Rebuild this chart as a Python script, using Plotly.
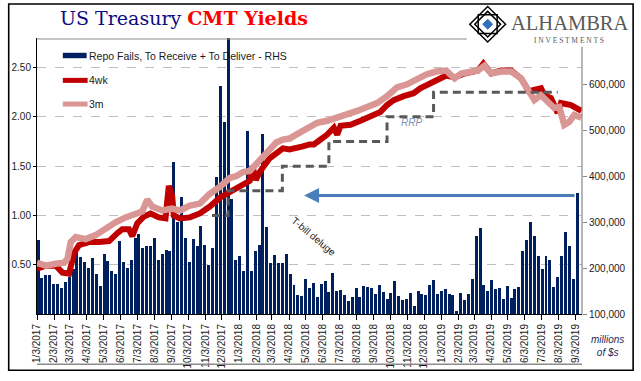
import plotly.graph_objects as go
import pandas as pd

# ---------------- data ----------------
# weekly repo fails (To Receive + To Deliver), millions of $ (RHS)
fails_start = "2017-01-05"
repo_fails = [261, 178, 184, 184, 165, 166, 157, 170, 180, 198,
              241, 224, 213, 201, 221, 188, 161, 231, 216, 193,
              186, 258, 214, 201, 218, 266, 274, 243, 248, 248,
              266, 217, 230, 240, 238, 430, 300, 355, 266, 214,
              263, 247, 291, 250, 206, 244, 398, 595, 518, 720,
              350, 218, 226, 193, 497, 194, 236, 250, 491, 290,
              211, 228, 211, 211, 231, 188, 164, 141, 139, 176,
              156, 167, 137, 166, 171, 148, 190, 150, 153, 141,
              128, 137, 156, 137, 161, 158, 156, 144, 163, 147,
              133, 146, 171, 140, 131, 133, 146, 118, 150, 143,
              141, 163, 173, 144, 150, 154, 143, 141, 106, 146,
              130, 144, 176, 270, 287, 163, 151, 173, 154, 156,
              133, 160, 134, 154, 158, 237, 261, 301, 270, 227,
              198, 227, 218, 158, 180, 227, 278, 248, 176, 362]
repo_fails = [v * 1000 for v in repo_fails]

# 4-week bill CMT yield (%)
wk4_dates = ["2017-01-03", "2017-01-19", "2017-02-06", "2017-02-18", "2017-03-02",
             "2017-03-11", "2017-03-20", "2017-04-07", "2017-04-25", "2017-05-13",
             "2017-05-28", "2017-06-06", "2017-06-18", "2017-06-24", "2017-07-03",
             "2017-07-15", "2017-07-27", "2017-08-11", "2017-08-23", "2017-08-29",
             "2017-09-04", "2017-09-07", "2017-09-18", "2017-10-06", "2017-10-24",
             "2017-11-11", "2017-11-29", "2017-12-17", "2017-12-29", "2018-01-10",
             "2018-01-22", "2018-01-27", "2018-02-02", "2018-02-09", "2018-02-21",
             "2018-02-27", "2018-03-11", "2018-03-23", "2018-04-04", "2018-04-16",
             "2018-04-28", "2018-05-10", "2018-05-18", "2018-05-30", "2018-06-11",
             "2018-06-23", "2018-06-29", "2018-07-05", "2018-07-23", "2018-08-10",
             "2018-08-28", "2018-09-15", "2018-09-27", "2018-10-09", "2018-10-27",
             "2018-11-14", "2018-11-26", "2018-12-07", "2018-12-19", "2018-12-31",
             "2019-01-12", "2019-01-27", "2019-02-14", "2019-03-10", "2019-03-20",
             "2019-04-03", "2019-04-21", "2019-05-09", "2019-05-27", "2019-06-10",
             "2019-07-02", "2019-07-08", "2019-07-20", "2019-08-01", "2019-08-07",
             "2019-08-25", "2019-09-06", "2019-09-13"]
wk4_vals = [0.46, 0.49, 0.49, 0.42, 0.41, 0.62, 0.70, 0.73, 0.73, 0.74,
            0.82, 0.86, 0.86, 0.79, 0.92, 0.99, 1.02, 0.98, 0.97, 1.30,
            1.20, 1.00, 0.97, 0.98, 1.02, 1.09, 1.18, 1.24, 1.27, 1.32,
            1.35, 1.50, 1.36, 1.44, 1.52, 1.58, 1.63, 1.68, 1.67, 1.68,
            1.70, 1.72, 1.72, 1.77, 1.82, 1.89, 1.82, 1.91, 1.92, 1.96,
            2.00, 2.05, 2.12, 2.17, 2.21, 2.24, 2.29, 2.32, 2.36, 2.40,
            2.42, 2.40, 2.44, 2.47, 2.54, 2.44, 2.47, 2.47, 2.39, 2.26,
            2.29, 2.22, 2.19, 2.04, 2.14, 2.12, 2.09, 2.06]

# 3-month bill CMT yield (%)
m3_dates = ["2017-01-03", "2017-01-19", "2017-02-06", "2017-02-21", "2017-02-27",
            "2017-03-05", "2017-03-14", "2017-04-01", "2017-04-19", "2017-05-07",
            "2017-05-25", "2017-06-12", "2017-06-30", "2017-07-12", "2017-07-21",
            "2017-07-30", "2017-08-17", "2017-09-04", "2017-09-18", "2017-10-06",
            "2017-10-24", "2017-11-11", "2017-11-29", "2017-12-17", "2017-12-29",
            "2018-01-10", "2018-01-22", "2018-02-03", "2018-02-15", "2018-02-27",
            "2018-03-11", "2018-03-23", "2018-04-04", "2018-04-16", "2018-04-28",
            "2018-05-10", "2018-05-24", "2018-06-11", "2018-06-29", "2018-07-17",
            "2018-08-04", "2018-08-22", "2018-09-09", "2018-09-27", "2018-10-15",
            "2018-11-02", "2018-11-20", "2018-12-07", "2018-12-25", "2019-01-12",
            "2019-01-21", "2019-01-27", "2019-02-08", "2019-02-26", "2019-03-10",
            "2019-03-22", "2019-04-03", "2019-04-21", "2019-05-09", "2019-05-27",
            "2019-06-08", "2019-06-20", "2019-07-02", "2019-07-14", "2019-07-26",
            "2019-08-04", "2019-08-13", "2019-08-22", "2019-08-31", "2019-09-13"]
m3_vals = [0.52, 0.49, 0.51, 0.52, 0.56, 0.73, 0.78, 0.76, 0.80, 0.87,
           0.93, 0.98, 1.01, 1.04, 1.16, 1.09, 1.05, 1.07, 1.05, 1.10,
           1.12, 1.22, 1.29, 1.38, 1.40, 1.44, 1.45, 1.52, 1.60, 1.66,
           1.74, 1.77, 1.78, 1.82, 1.86, 1.91, 1.94, 1.96, 1.99, 2.02,
           2.06, 2.10, 2.14, 2.21, 2.30, 2.33, 2.38, 2.43, 2.46, 2.47,
           2.42, 2.39, 2.44, 2.46, 2.47, 2.52, 2.44, 2.46, 2.46, 2.39,
           2.29, 2.17, 2.22, 2.16, 2.09, 2.10, 1.92, 1.95, 2.02, 1.99]

# Fed RRP rate (%), step series
rrp_dates = ["2017-11-15", "2017-12-14", "2018-03-22", "2018-06-14",
             "2018-09-27", "2018-12-20", "2019-08-01"]
rrp_vals = [1.00, 1.25, 1.50, 1.75, 2.00, 2.25, 2.25]

left_ticks = [0.5, 1.0, 1.5, 2.0, 2.5]
right_ticks = [100000, 200000, 300000, 400000, 500000, 600000]

# ---------------- layout helpers ----------------
W, H = 641, 381
ML, MR, MT, MB = 33, 59, 38, 63
PW = W - ML - MR
PH = H - MT - MB


def X(px):
    return (px - ML) / PW


def Y(py):
    return (H - MB - py) / PH


NAVY = "#002060"
RED = "#C00000"
PINK = "#DA9694"
FONT = "Liberation Sans"

fail_dates = pd.date_range(fails_start, periods=len(repo_fails), freq="7D")
month_ticks = pd.date_range("2017-01-01", "2019-09-01", freq="MS") + pd.Timedelta(days=2)

fig = go.Figure()
fig.add_trace(go.Bar(x=fail_dates, y=repo_fails, yaxis="y",
                     marker=dict(color=NAVY, line=dict(width=0)),
                     width=5.4 * 86400000, name="Repo Fails, To Receive + To Deliver - RHS",
                     showlegend=False))
fig.add_trace(go.Scatter(x=wk4_dates, y=wk4_vals, yaxis="y2", mode="lines",
                         line=dict(color=RED, width=6), name="4wk", showlegend=False))
fig.add_trace(go.Scatter(x=m3_dates, y=m3_vals, yaxis="y2", mode="lines",
                         line=dict(color=PINK, width=6.5), name="3m", showlegend=False))
fig.add_trace(go.Scatter(x=rrp_dates, y=rrp_vals, yaxis="y2", mode="lines",
                         line=dict(color="#595959", width=3, dash="8px,5px", shape="hv"),
                         name="RRP", showlegend=False))

shapes = []
# outer frame
shapes.append(dict(type="rect", xref="paper", yref="paper", x0=X(4.5), x1=X(633.5),
                   y0=Y(375), y1=Y(3.5), line=dict(color="black", width=1.6), layer="above"))
# plot top border and bottom line
shapes.append(dict(type="line", xref="paper", yref="paper", x0=X(33), x1=X(466),
                   y0=Y(39), y1=Y(39), line=dict(color="#8C8C8C", width=1)))
shapes.append(dict(type="line", xref="paper", yref="paper", x0=X(33), x1=X(582),
                   y0=Y(369), y1=Y(369), line=dict(color="#8C8C8C", width=1.5)))
# right axis line
shapes.append(dict(type="line", xref="paper", yref="paper", x0=X(582), x1=X(582),
                   y0=Y(318), y1=Y(47), line=dict(color="#868686", width=1.2)))
# legend symbols
shapes.append(dict(type="rect", xref="paper", yref="paper", x0=X(59), x1=X(83),
                   y0=Y(58.5), y1=Y(53), fillcolor=NAVY, line=dict(width=0)))
shapes.append(dict(type="line", xref="paper", yref="paper", x0=X(59), x1=X(84),
                   y0=Y(81), y1=Y(81), line=dict(color=RED, width=5)))
shapes.append(dict(type="line", xref="paper", yref="paper", x0=X(59), x1=X(84),
                   y0=Y(105), y1=Y(105), line=dict(color=PINK, width=5)))


# logo diamond
def diamond(cx, cy, r):
    return "M {},{} L {},{} L {},{} L {},{} Z".format(
        X(cx), Y(cy - r), X(cx + r), Y(cy), X(cx), Y(cy + r), X(cx - r), Y(cy))


def square(cx, cy, r):
    return "M {},{} L {},{} L {},{} L {},{} Z".format(
        X(cx - r), Y(cy - r), X(cx + r), Y(cy - r), X(cx + r), Y(cy + r), X(cx - r), Y(cy + r))


shapes.append(dict(type="path", xref="paper", yref="paper", path=diamond(487, 24, 18),
                   line=dict(color="black", width=1.5)))
shapes.append(dict(type="path", xref="paper", yref="paper", path=square(487, 24, 9.5),
                   line=dict(color="black", width=1.5)))
shapes.append(dict(type="path", xref="paper", yref="paper", path=diamond(487, 24, 13),
                   line=dict(color="black", width=1.5)))
shapes.append(dict(type="path", xref="paper", yref="paper", path=diamond(487, 24, 5),
                   fillcolor="#2F6EBA", line=dict(color="#2F6EBA", width=1)))

annotations = []


def note(px, py, text, font, **kw):
    d = dict(xref="paper", yref="paper", x=X(px), y=Y(py), xanchor="center",
             yanchor="middle", showarrow=False, text=text, font=font, borderpad=0)
    d.update(kw)
    annotations.append(d)


# title
note(55, 18, "<span style='color:#0B0B82'>US Treasury </span>"
             "<b><span style='color:#FF0000'>CMT Yields</span></b>",
     dict(family="DejaVu Serif", size=19), xanchor="left")
# logo text
note(569.5, 23, "ALHAMBRA", dict(family="Liberation Serif", size=20.5, color="#595959"))
note(569, 40.5, "I N V E S T M E N T S", dict(family="Liberation Serif", size=7.5, color="#595959"))
# legend text
for txt, yy in [("Repo Fails, To Receive + To Deliver - RHS", 56), ("4wk", 81), ("3m", 105)]:
    note(84, yy, txt, dict(family=FONT, size=10.5, color="#1a1a1a"), xanchor="left")
# RRP label
note(410, 124, "<i>RRP</i>", dict(family=FONT, size=10, color="#7F93B5"))
# T-bill deluge
note(312, 239, "T-bill deluge", dict(family=FONT, size=10, color="#222222"), textangle=40)
# millions of $s
note(608, 350, "<i>millions<br>of $s</i>", dict(family=FONT, size=10, color="#1F2D5A"))
# arrow
annotations.append(dict(xref="paper", yref="paper", x=X(302), y=Y(197.7), ax=272, ay=0,
                        showarrow=True, arrowhead=2, arrowsize=1, arrowwidth=3,
                        arrowcolor="#4A7EBB", text=""))

fig.update_layout(
    width=W, height=H,
    margin=dict(l=ML, r=MR, t=MT, b=MB, pad=0),
    paper_bgcolor="white", plot_bgcolor="white",
    showlegend=False, bargap=0,
    font=dict(family=FONT, size=10, color="#1a1a1a"),
    xaxis=dict(type="date", range=["2017-01-03", "2019-09-14"],
               tickvals=month_ticks, tickformat="%-m/%-d/%Y", tickangle=-90,
               ticks="outside", ticklen=5, tickcolor="black", tickwidth=1,
               showline=True, linecolor="black", linewidth=1, showgrid=False,
               zeroline=False, tickfont=dict(family=FONT, size=10, color="#1a1a1a")),
    yaxis=dict(side="right", range=[100000, 700000], tickvals=right_ticks,
               tickprefix="$", tickformat=",", showgrid=False, showline=False,
               ticks="outside", ticklen=4, tickcolor="#868686", zeroline=False,
               tickfont=dict(family=FONT, size=10, color="#1a1a1a")),
    yaxis2=dict(overlaying="y", side="left", range=[0, 2.8], tickvals=left_ticks,
                tickformat=".2f", showgrid=True, gridcolor="#BFBFBF", griddash="dash",
                gridwidth=1, showline=True, linecolor="black", linewidth=1,
                ticks="outside", ticklen=3, tickcolor="black", zeroline=False,
                tickfont=dict(family=FONT, size=10, color="#1a1a1a")),
    shapes=shapes,
    annotations=annotations,
)

fig.write_html("out.html", config={"displayModeBar": False},
               post_script="document.body.style.margin='0';document.body.style.overflow='hidden';")
